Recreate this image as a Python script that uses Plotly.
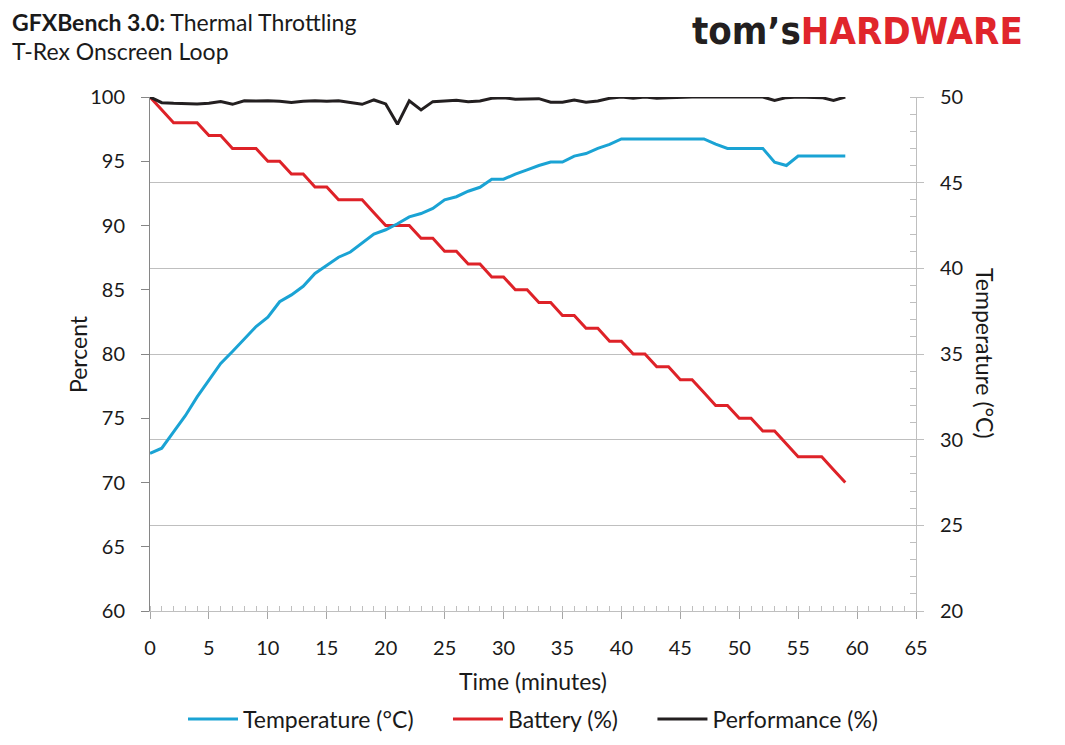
import plotly.graph_objects as go

# ---- data (one sample per minute) ----
minutes = [0, 1, 2, 3, 4, 5, 6, 7, 8, 9,
           10, 11, 12, 13, 14, 15, 16, 17, 18, 19,
           20, 21, 22, 23, 24, 25, 26, 27, 28, 29,
           30, 31, 32, 33, 34, 35, 36, 37, 38, 39,
           40, 41, 42, 43, 44, 45, 46, 47, 48, 49,
           50, 51, 52, 53, 54, 55, 56, 57, 58, 59]

temperature = [29.2, 29.5, 30.45, 31.4, 32.5, 33.45, 34.45, 35.15, 35.85, 36.6,
               37.15, 38.05, 38.45, 38.95, 39.7, 40.15, 40.65, 40.95, 41.5, 42.0,
               42.25, 42.6, 43.0, 43.2, 43.5, 44.0, 44.18, 44.5, 44.73, 45.2,
               45.2, 45.5, 45.75, 46.0, 46.2, 46.2, 46.55, 46.7, 47.0, 47.23,
               47.55, 47.55, 47.55, 47.55, 47.55, 47.55, 47.55, 47.55, 47.25, 47.0,
               47.0, 47.0, 47.0, 46.2, 46.0, 46.55, 46.55, 46.55, 46.55, 46.55]

battery = [100, 99, 98, 98, 98, 97, 97, 96, 96, 96,
           95, 95, 94, 94, 93, 93, 92, 92, 92, 91,
           90, 90, 90, 89, 89, 88, 88, 87, 87, 86,
           86, 85, 85, 84, 84, 83, 83, 82, 82, 81,
           81, 80, 80, 79, 79, 78, 78, 77, 76, 76,
           75, 75, 74, 74, 73, 72, 72, 72, 71, 70]

performance = [100, 99.56, 99.51, 99.46, 99.46, 99.51, 99.64, 99.43, 99.71, 99.69,
               99.71, 99.66, 99.58, 99.66, 99.71, 99.66, 99.71, 99.58, 99.43, 99.77,
               99.46, 97.87, 99.71, 98.99, 99.64, 99.69, 99.74, 99.64, 99.69, 99.9,
               99.95, 99.82, 99.82, 99.87, 99.6, 99.6, 99.77, 99.6, 99.69, 99.9,
               100, 99.9, 100, 99.9, 99.95, 100, 100, 100, 100, 100,
               100, 100, 100, 99.74, 99.95, 100, 99.95, 99.95, 99.74, 100]

BLUE = "#1aa3d4"
RED = "#de2228"
BLACK = "#231f20"
FONT = "Lato"
PAD = "\u00a0" * 5  # a bit of room between legend entries

W, H = 1049, 729  # page body keeps an 8px margin all round

fig = go.Figure()

fig.add_trace(go.Scatter(x=minutes, y=temperature, name="Temperature (°C)" + PAD,
                         mode="lines", line=dict(color=BLUE, width=3), yaxis="y2"))
fig.add_trace(go.Scatter(x=minutes, y=battery, name="Battery (%)" + PAD,
                         mode="lines", line=dict(color=RED, width=3)))
fig.add_trace(go.Scatter(x=minutes, y=performance, name="Performance (%)",
                         mode="lines", line=dict(color=BLACK, width=3)))

fig.update_layout(
    width=W, height=H,
    margin=dict(l=142, r=141, t=89, b=126, autoexpand=False),
    paper_bgcolor="white", plot_bgcolor="white",
    font=dict(family=FONT, size=20, color="#1a1a1a"),
    xaxis=dict(range=[0, 65], dtick=5, tick0=0, showgrid=False, zeroline=False,
               showline=True, linecolor="#bfbfbf", linewidth=1,
               ticks="outside", ticklen=7, tickcolor="#a6a6a6",
               ticklabelstandoff=12,
               minor=dict(dtick=1, ticks="inside", ticklen=5, tickcolor="#bfbfbf")),
    # second x axis only to draw the inner half of the major ticks
    xaxis2=dict(range=[0, 65], dtick=5, tick0=0, overlaying="x", anchor="y",
                side="bottom", showgrid=False, zeroline=False, showline=False,
                showticklabels=False, ticks="inside", ticklen=6, tickcolor="#a6a6a6"),
    yaxis=dict(range=[60, 100], dtick=5, showgrid=False, zeroline=False,
               showline=True, linecolor="#868686", linewidth=1,
               ticks="outside", ticklen=8, tickcolor="#868686",
               ticklabelstandoff=12),
    yaxis2=dict(range=[20, 50], dtick=5, overlaying="y", side="right",
                showgrid=True, gridcolor="#bfbfbf", gridwidth=1, zeroline=False,
                showline=True, linecolor="#bfbfbf", linewidth=1,
                ticks="outside", ticklen=7, tickcolor="#bfbfbf",
                ticklabelstandoff=12,
                minor=dict(dtick=1, ticks="inside", ticklen=6, tickcolor="#bfbfbf")),
    legend=dict(orientation="h", x=0.5, xanchor="center",
                yref="container", y=(H - 711) / H, yanchor="middle",
                font=dict(size=23), itemwidth=50, bgcolor="rgba(0,0,0,0)"),
    showlegend=True,
)

annotations = [
    dict(text="<b>GFXBench 3.0:</b> Thermal Throttling", x=-0.1828, y=1.1459,
         xanchor="left", yanchor="middle", font=dict(size=23)),
    dict(text="T-Rex Onscreen Loop", x=-0.1828, y=1.0895,
         xanchor="left", yanchor="middle", font=dict(size=23)),
    dict(text="<b><span style='color:#231f20'>tom’s</span>"
              "<span style='color:#e0252b'>HARDWARE</span></b>",
         x=1.1423, y=1.128, xanchor="right", yanchor="middle",
         font=dict(family="DejaVu Sans Condensed", size=38)),
    dict(text="Time (minutes)", x=0.5, y=-0.136, xanchor="center", yanchor="middle",
         font=dict(size=23)),
    dict(text="Percent", x=-0.094, y=0.5, textangle=-90, xanchor="center",
         yanchor="middle", font=dict(size=23)),
    dict(text="Temperature (°C)", x=1.09, y=0.5, textangle=90, xanchor="center",
         yanchor="middle", font=dict(size=23)),
]
for a in annotations:
    a.update(xref="paper", yref="paper", showarrow=False)
fig.update_layout(annotations=annotations)

fig.write_html("out.html")
